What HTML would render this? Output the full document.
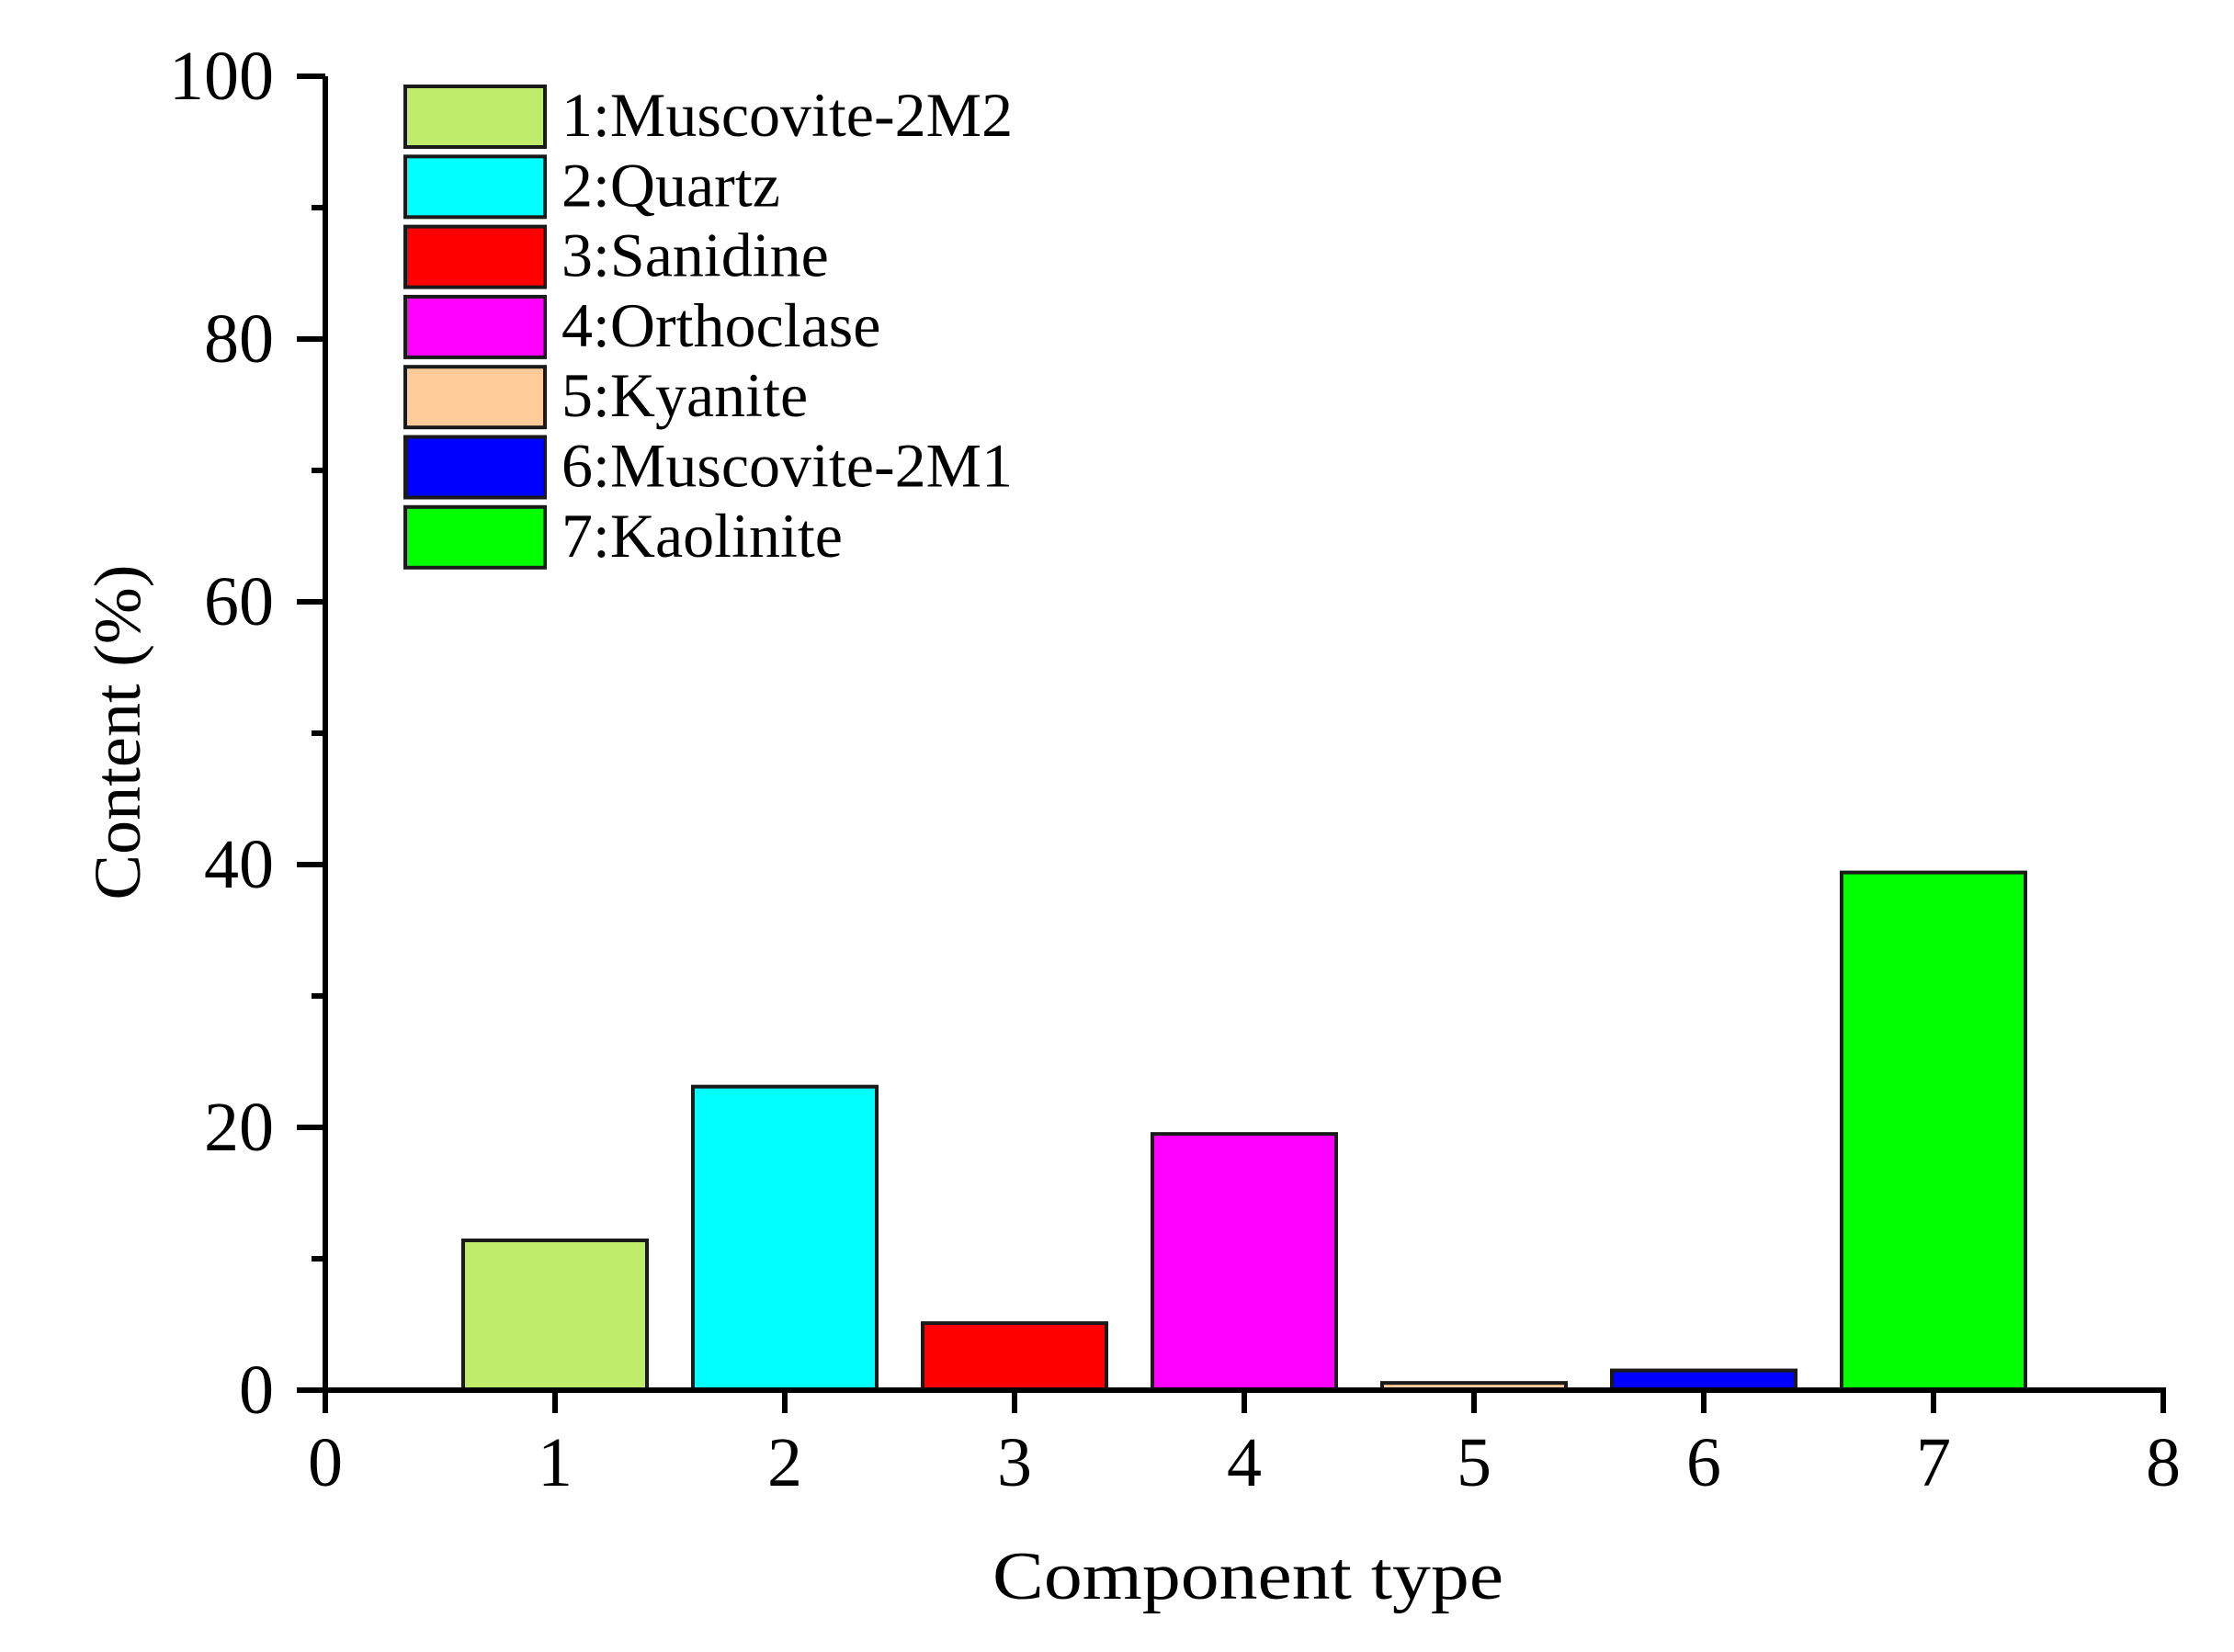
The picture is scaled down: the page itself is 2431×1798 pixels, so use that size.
<!DOCTYPE html>
<html><head><meta charset="utf-8"><style>
html,body{margin:0;padding:0;background:#fff;}
svg{display:block;font-family:"Liberation Serif",serif;}
</style></head><body>
<svg id="chart" width="2431" height="1798" viewBox="0 0 2431 1798" xmlns="http://www.w3.org/2000/svg">
<g id="bars"></g>
<g id="axes"></g>
<g id="legend"></g>
<text x="1358" y="1740" font-size="74" text-anchor="middle" textLength="556" lengthAdjust="spacingAndGlyphs">Component type</text>
<text transform="translate(152,797) rotate(-90)" font-size="72" text-anchor="middle" textLength="365" lengthAdjust="spacingAndGlyphs">Content (%)</text>
</svg>
<script>
const categories = [1, 2, 3, 4, 5, 6, 7];
const values = [11.4, 23.1, 5.1, 19.5, 0.55, 1.5, 39.4];
const labels = ["1:Muscovite-2M2","2:Quartz","3:Sanidine","4:Orthoclase","5:Kyanite","6:Muscovite-2M1","7:Kaolinite"];
const colors = ["#C0EC6C","#00FFFF","#FF0000","#FF00FF","#FFCC99","#0000FF","#00FF00"];
const xTicks = [0,1,2,3,4,5,6,7,8];
const yTicks = [0,20,40,60,80,100];
const yMinor = [10,30,50,70,90];

const NS = "http://www.w3.org/2000/svg";
const X = v => 354 + v * 250;
const Y = v => 1513 - v * 14.3;
function mk(tag, attrs, parent){ const e = document.createElementNS(NS, tag); for (const k in attrs) e.setAttribute(k, attrs[k]); parent.appendChild(e); return e; }

const bars = document.getElementById('bars');
categories.forEach((c, i) => {
  const r = mk('rect', {x: X(c - 0.4), y: Y(values[i]), width: X(c + 0.4) - X(c - 0.4), height: Y(0) - Y(values[i]), fill: colors[i], stroke: '#1a1a1a', 'stroke-width': 4}, bars);
  
  
});

const axes = document.getElementById('axes');
let l = mk('line', {x1: X(0), y1: Y(0) + 2, x2: X(0), y2: Y(100), stroke: '#000', 'stroke-width': 6}, axes);


l = mk('line', {x1: 323, y1: Y(0), x2: X(8) + 3, y2: Y(0), stroke: '#000', 'stroke-width': 6}, axes);


yTicks.forEach(v => {
  const t = mk('line', {x1: 323, y1: Y(v), x2: X(0), y2: Y(v), stroke: '#000', 'stroke-width': 6}, axes);
  
  
  const tx = mk('text', {x: 298, y: Y(v) + 25, 'font-size': 76, 'text-anchor': 'end'}, axes);
  tx.textContent = v;
  
  
});
yMinor.forEach(v => {
  const t = mk('line', {x1: 339, y1: Y(v), x2: X(0), y2: Y(v), stroke: '#000', 'stroke-width': 6}, axes);
  
  
});
xTicks.forEach(v => {
  const t = mk('line', {x1: X(v), y1: Y(0), x2: X(v), y2: 1538, stroke: '#000', 'stroke-width': 6}, axes);
  
  
  const tx = mk('text', {x: X(v), y: 1617, 'font-size': 76, 'text-anchor': 'middle'}, axes);
  tx.textContent = v;
  
  
});

const legend = document.getElementById('legend');
labels.forEach((lab, i) => {
  const y0 = 94 + i * 76.3;
  const r = mk('rect', {x: 441, y: y0, width: 152, height: 66, fill: colors[i], stroke: '#1a1a1a', 'stroke-width': 4}, legend);
  
  
  const tx = mk('text', {x: 611, y: y0 + 54, 'font-size': 68}, legend);
  tx.textContent = lab;
  
  
});
</script>
</body></html>
